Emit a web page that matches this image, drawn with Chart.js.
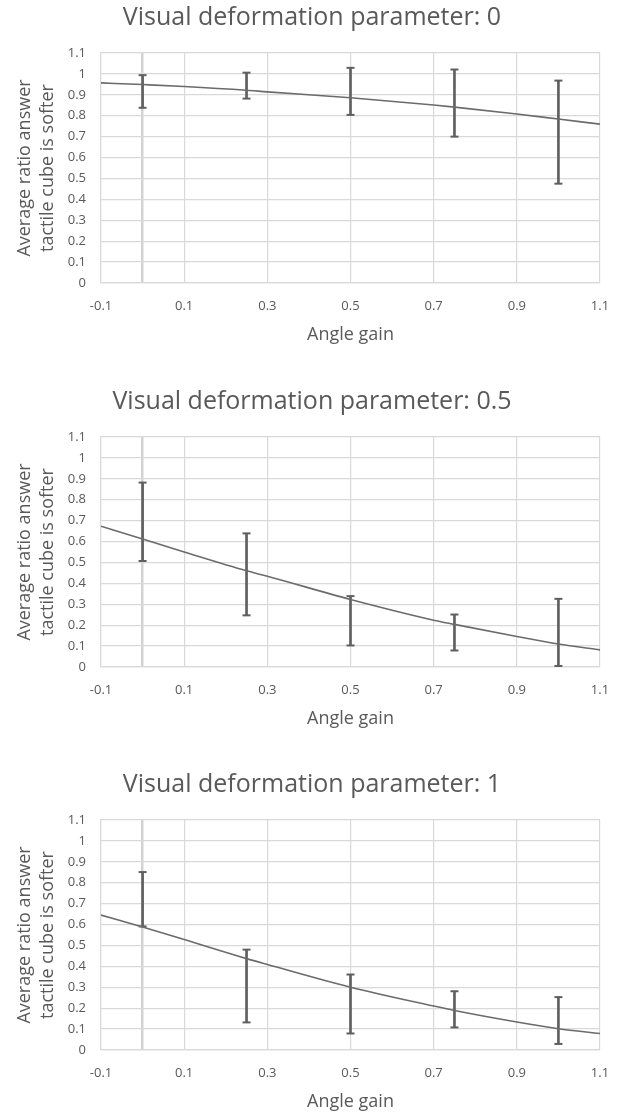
<!DOCTYPE html>
<html>
<head>
<meta charset="utf-8">
<script src="https://cdn.jsdelivr.net/npm/chart.js@4"></script>
<style>
  body { margin: 0; background: #fff; overflow: hidden; }
  .box { position: absolute; left: 0; width: 618px; height: 346px; }
</style>
</head>
<body>
<div class="box" style="top:0px"><canvas id="chart0"></canvas></div>
<div class="box" style="top:384px"><canvas id="chart05"></canvas></div>
<div class="box" style="top:767px"><canvas id="chart1"></canvas></div>
<script>
// x positions of the measured conditions (angle gain)
const gainX = [0, 0.25, 0.5, 0.75, 1];

// error bar ends
const low0 = [0.838, 0.882, 0.804, 0.700, 0.475];
const high0 = [0.994, 1.006, 1.029, 1.021, 0.968];
const low05 = [0.507, 0.247, 0.103, 0.079, 0.005];
const high05 = [0.882, 0.639, 0.339, 0.251, 0.326];
const low1 = [0.591, 0.132, 0.079, 0.108, 0.029];
const high1 = [0.851, 0.480, 0.361, 0.281, 0.253];

// trendline, read at these x values
const trendX = [-0.1, 0, 0.1, 0.25, 0.3, 0.5, 0.7, 0.75, 0.9, 1.0, 1.1];
const trend0 = [0.957, 0.949, 0.940, 0.922, 0.914, 0.886, 0.851, 0.841, 0.808, 0.784, 0.760];
const trend05 = [0.673, 0.612, 0.550, 0.460, 0.434, 0.323, 0.224, 0.204, 0.146, 0.110, 0.082];
const trend1 = [0.645, 0.588, 0.528, 0.437, 0.409, 0.300, 0.210, 0.189, 0.134, 0.102, 0.079];

// tick labels
const xTicks = [-0.1, 0, 0.1, 0.3, 0.5, 0.7, 0.9, 1.1];
const yTicks = [0, 0.1, 0.2, 0.3, 0.4, 0.5, 0.6, 0.7, 0.8, 0.9, 1, 1.1];

const textColor = '#595959';
const lineColor = '#6b6b6b';
const gridColor = '#d9d9d9';
const font = "'Open Sans', sans-serif";

// Function to create one panel
function createChart(element, title, low, high, trend) {
    let bars = gainX.map((x, i) => ({ x: x, y: [low[i], high[i]] }));
    let caps = [];
    gainX.forEach((x, i) => {
        caps.push({ x: x, y: low[i] });
        caps.push({ x: x, y: high[i] });
    });
    let line = trendX.map((x, i) => ({ x: x, y: trend[i] }));

    let ctx = document.getElementById(element).getContext('2d');
    return new Chart(ctx, {
        type: 'scatter',
        data: {
            datasets: [{
                type: 'line',
                data: line,
                borderColor: lineColor,
                borderWidth: 1.6,
                pointRadius: 0,
                cubicInterpolationMode: 'monotone',
                fill: false
            }, {
                type: 'bar',
                data: bars,
                backgroundColor: '#5f5f5f',
                borderWidth: 0,
                barThickness: 2
            }, {
                type: 'scatter',
                data: caps,
                pointStyle: 'line',
                pointRadius: 4,
                borderColor: '#5f5f5f',
                borderWidth: 2
            }]
        },
        options: {
            responsive: true,
            maintainAspectRatio: false,
            animation: false,
            // left padding a bit larger so the title sits right of centre, like the original
            layout: { padding: { top: 3, right: 18, left: 24, bottom: 0 } },
            plugins: {
                legend: { display: false },
                tooltip: { enabled: false },
                title: {
                    display: true,
                    text: title,
                    color: textColor,
                    font: { family: font, size: 25, weight: 'normal', lineHeight: 1.2 },
                    padding: { top: 0, bottom: 20 }
                }
            },
            scales: {
                x: {
                    type: 'linear',
                    min: -0.1,
                    max: 1.1,
                    offset: false,
                    afterBuildTicks: (scale) => {
                        scale.ticks = xTicks.map(v => ({ value: v }));
                    },
                    afterFit: (scale) => {
                        scale.height = 63;
                        // the last label may hang over the edge, as in the original
                        scale.paddingLeft = 0;
                        scale.paddingRight = 0;
                    },
                    ticks: {
                        color: textColor,
                        font: { family: font, size: 13 },
                        padding: 15,
                        maxRotation: 0,
                        autoSkip: false,
                        callback: (v) => v === 0 ? '' : String(v)
                    },
                    grid: {
                        offset: false,
                        drawTicks: false,
                        color: (c) => c.tick && c.tick.value === 0 ? '#d2d2d2' : gridColor,
                        lineWidth: (c) => c.tick && c.tick.value === 0 ? 2.5 : 1.2
                    },
                    border: { color: gridColor, width: 1.2 },
                    title: {
                        display: true,
                        text: 'Angle gain',
                        color: textColor,
                        font: { family: font, size: 18, lineHeight: 1.2 },
                        padding: { top: 4, bottom: 0 }
                    }
                },
                y: {
                    min: 0,
                    max: 1.1,
                    afterBuildTicks: (scale) => {
                        scale.ticks = yTicks.map(v => ({ value: v }));
                    },
                    afterFit: (scale) => {
                        scale.width = 77;
                    },
                    ticks: {
                        color: textColor,
                        font: { family: font, size: 13 },
                        padding: 15,
                        callback: (v) => String(v)
                    },
                    grid: {
                        drawTicks: false,
                        color: gridColor,
                        lineWidth: 1.2
                    },
                    border: { color: gridColor, width: 1.2 },
                    title: {
                        display: true,
                        text: ['Average ratio answer', 'tactile cube is softer'],
                        color: textColor,
                        font: { family: font, size: 18, lineHeight: 1.28 },
                        padding: { top: -11, bottom: 0 }
                    }
                }
            }
        }
    });
}

createChart('chart0', 'Visual deformation parameter: 0', low0, high0, trend0);
createChart('chart05', 'Visual deformation parameter: 0.5', low05, high05, trend05);
createChart('chart1', 'Visual deformation parameter: 1', low1, high1, trend1);
</script>
</body>
</html>
